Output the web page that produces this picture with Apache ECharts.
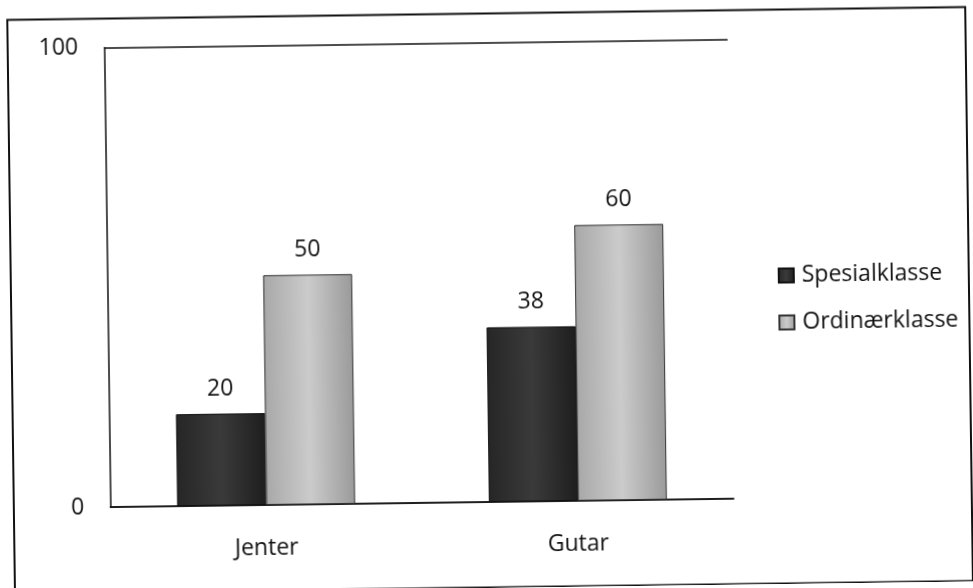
<!DOCTYPE html>
<html>
<head>
<meta charset="utf-8">
<script src="https://cdn.jsdelivr.net/npm/echarts@6/dist/echarts.min.js"></script>
<style>
  html, body { margin: 0; padding: 0; background: #fff; overflow: hidden; }
  /* the scanned original sits slightly tilted */
  #chart-ctn { width: 973px; height: 588px; transform: rotate(-0.77deg); transform-origin: 486.5px 294px; }
</style>
</head>
<body>
<div id="chart-ctn"></div>
<script>
var categories = ['Jenter', 'Gutar'];
var spesialklasse = [20, 38];
var ordinaerklasse = [50, 60];
var yTicks = [0, 100];

var myChart = echarts.init(document.getElementById('chart-ctn'));

var darkFill = new echarts.graphic.LinearGradient(0, 0, 1, 0, [
  {offset: 0, color: '#262626'},
  {offset: 0.5, color: '#3a3a3a'},
  {offset: 1, color: '#1e1e1e'}
]);
var lightFill = new echarts.graphic.LinearGradient(0, 0, 1, 0, [
  {offset: 0, color: '#a8a8a8'},
  {offset: 0.5, color: '#cbcbcb'},
  {offset: 1, color: '#9a9a9a'}
]);

var option = {
  animation: false,
  textStyle: {fontFamily: 'Open Sans', color: '#111'},
  graphic: [{
    type: 'rect',
    shape: {x: 11, y: 13.5, width: 958, height: 574},
    style: {fill: 'none', stroke: '#111', lineWidth: 2}
  }],
  grid: {left: 107.5, top: 42.5, right: 242, bottom: 86},
  legend: {
    orient: 'vertical',
    left: 773,
    top: 263,
    itemWidth: 15,
    itemHeight: 14,
    itemGap: 24,
    icon: 'rect',
    textStyle: {fontSize: 23, color: '#111', fontFamily: 'Open Sans', padding: [0, 0, 0, 3]},
    data: ['Spesialklasse', 'Ordinærklasse']
  },
  xAxis: {
    type: 'category',
    data: categories,
    axisLine: {lineStyle: {color: '#111', width: 1.5}},
    axisTick: {show: false},
    axisLabel: {fontSize: 23, color: '#111', margin: 32}
  },
  yAxis: {
    type: 'value',
    min: yTicks[0],
    max: yTicks[1],
    interval: 100,
    axisLine: {show: true, lineStyle: {color: '#111', width: 1.5}},
    axisTick: {show: false},
    splitLine: {show: true, lineStyle: {color: '#111', width: 1.5}},
    axisLabel: {fontSize: 23, color: '#111', margin: 26}
  },
  series: [
    {
      name: 'Spesialklasse',
      type: 'bar',
      data: spesialklasse,
      barWidth: 89,
      barGap: '0%',
      itemStyle: {color: darkFill, borderColor: '#111', borderWidth: 1},
      label: {show: true, position: 'top', fontSize: 23, color: '#111', distance: 13}
    },
    {
      name: 'Ordinærklasse',
      type: 'bar',
      data: ordinaerklasse,
      barWidth: 89,
      barGap: '0%',
      itemStyle: {color: lightFill, borderColor: '#333', borderWidth: 1},
      label: {show: true, position: 'top', fontSize: 23, color: '#111', distance: 13}
    }
  ]
};

myChart.setOption(option);
</script>
</body>
</html>
